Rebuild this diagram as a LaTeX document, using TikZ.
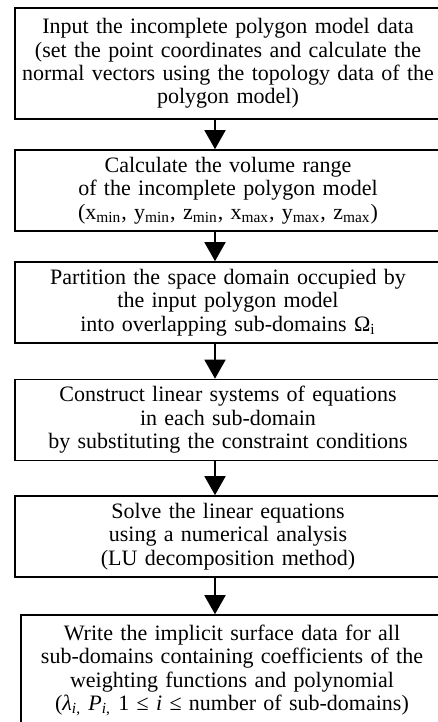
\documentclass[tikz,border=0pt]{standalone}
\usepackage{fontspec}
\setmainfont{Liberation Serif}
\usetikzlibrary{arrows.meta,positioning}

\begin{document}
\begin{tikzpicture}[x=0.5pt,y=-0.5pt,
  stepbox/.style={draw,line width=0.8pt,align=center,inner sep=0pt,
    text width=213pt,minimum height=40.5pt,font=\fontsize{11}{11.7}\selectfont},
  flow/.style={line width=0.8pt,-{Triangle[width=10.5pt,length=9.5pt]}}]
\useasboundingbox (0,0) rectangle (438,722);
\node[stepbox,minimum height=55.5pt] (input) at (228,63.5) {Input the incomplete polygon model data\\
(set the point coordinates and calculate the\\
normal vectors using the topology data of the\\
polygon model)};
\node[stepbox] (range) at (228,190.5) {Calculate the volume range\\
of the incomplete polygon model\\
(x\textsubscript{min}, y\textsubscript{min}, z\textsubscript{min}, x\textsubscript{max}, y\textsubscript{max}, z\textsubscript{max})};
\node[stepbox] (part) at (228,302.5) {Partition the space domain occupied by\\
the input polygon model\\
into overlapping sub-domains Ω\textsubscript{i}};
\node[stepbox] (build) at (228,420) {Construct linear systems of equations\\
in each sub-domain\\
by substituting the constraint conditions};
\node[stepbox] (solve) at (228,536.5) {Solve the linear equations\\
using a numerical analysis\\
(LU decomposition method)};
\node[stepbox,text width=211pt,minimum height=55.5pt] (write) at (232,670.5) {Write the implicit surface data for all\\
sub-domains containing coefficients of the\\
weighting functions and polynomial\\
(\textit{λ}\textsubscript{\textit{i},} \textit{P}\textsubscript{\textit{i},} 1 ≤ \textit{i} ≤ number of sub-domains)};
\coordinate (ax) at (215,0);
\draw[flow] (input.south -| ax) -- (range.north -| ax);
\draw[flow] (range.south -| ax) -- (part.north -| ax);
\draw[flow] (part.south -| ax) -- (build.north -| ax);
\draw[flow] (build.south -| ax) -- (solve.north -| ax);
\draw[flow] (solve.south -| ax) -- (write.north -| ax);
\end{tikzpicture}
\end{document}
